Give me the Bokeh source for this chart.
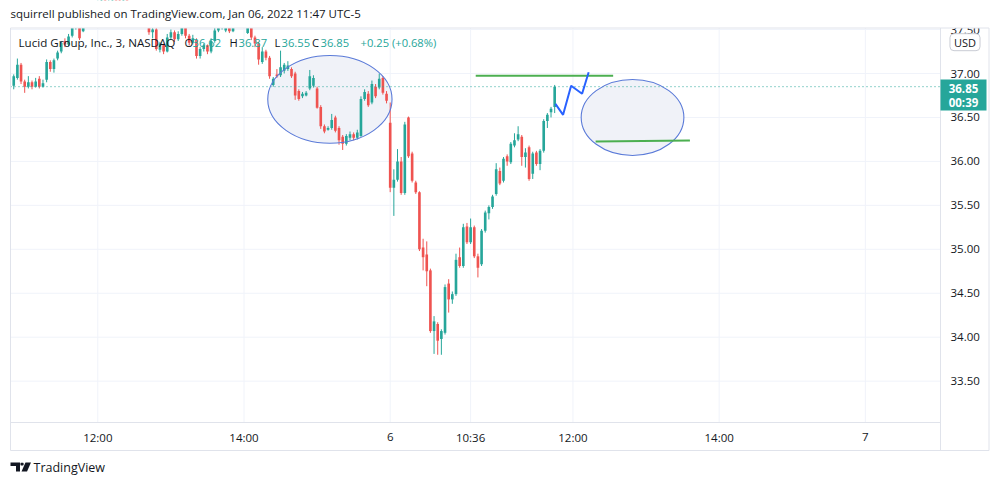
from bokeh.plotting import figure
from bokeh.models import Range1d, Label
from bokeh.embed import file_html
from bokeh.resources import INLINE
from bokeh.core.properties import value

# ---------------- data (3-minute bars, LCID, Jan 5 - Jan 6 2022) ----------------
# bar index: 0 = Jan 6 09:30, negative = Jan 5 session
first_bar = -103
opens = [
    36.86, 36.95, 37.10, 36.91, 36.85, 36.90, 36.85, 36.94, 36.85, 36.93,
    37.13, 37.05, 37.17, 37.25, 37.37, 37.33, 37.43, 37.55, 37.62, 37.48,
    37.58, 37.66, 37.74, 37.70, 37.80, 37.86, 37.78, 37.82, 37.90, 37.84,
    37.79, 37.85, 37.76, 37.72, 37.78, 37.70, 37.64, 37.60, 37.47, 37.50,
    37.27, 37.32, 37.25, 37.41, 37.47, 37.39, 37.45, 37.55, 37.43, 37.35,
    37.38, 37.20, 37.28, 37.32, 37.25, 37.37, 37.49, 37.55, 37.49, 37.56,
    37.48, 37.57, 37.64, 37.70, 37.46, 37.58, 37.41, 37.34, 37.13, 37.25,
    37.18, 36.87, 36.99, 36.98, 37.03, 37.05, 37.05, 37.00, 36.80, 36.74,
    36.75, 36.83, 36.86, 36.83, 36.62, 36.40, 36.36, 36.38, 36.50, 36.38,
    36.28, 36.20, 36.27, 36.31, 36.27, 36.29, 36.71, 36.77, 36.67, 36.85,
    36.84, 36.95, 36.77,
    36.44, 35.70, 35.79, 36.00, 35.64, 36.50, 36.09, 35.76, 35.65, 35.02,
    34.94, 34.76, 34.07, 34.15, 33.98, 34.05, 34.61, 34.43, 34.49, 34.91,
    34.81, 35.26, 35.08, 35.25, 34.92, 34.83, 35.21, 35.41, 35.48, 35.63,
    35.89, 35.78, 36.06, 35.99, 36.18, 36.25, 36.28, 36.05, 36.16, 35.86,
    36.10, 35.97, 36.12, 36.46, 36.56, 36.62,
]
highs = [
    36.99, 37.17, 37.12, 36.93, 36.97, 36.92, 36.95, 36.97, 36.93, 37.16,
    37.15, 37.17, 37.26, 37.37, 37.40, 37.45, 37.60, 37.66, 37.64, 37.62,
    37.70, 37.77, 37.76, 37.83, 37.89, 37.88, 37.85, 37.93, 37.92, 37.86,
    37.88, 37.87, 37.78, 37.81, 37.80, 37.72, 37.66, 37.63, 37.54, 37.53,
    37.36, 37.34, 37.45, 37.50, 37.49, 37.48, 37.60, 37.57, 37.45, 37.44,
    37.40, 37.30, 37.34, 37.33, 37.40, 37.52, 37.58, 37.62, 37.60, 37.58,
    37.60, 37.68, 37.73, 37.72, 37.63, 37.60, 37.43, 37.36, 37.30, 37.27,
    37.20, 36.96, 37.05, 37.26, 37.12, 37.14, 37.07, 37.02, 36.82, 36.79,
    36.80, 37.04, 36.98, 36.85, 36.64, 36.42, 36.40, 36.54, 36.52, 36.40,
    36.30, 36.31, 36.34, 36.33, 36.36, 36.74, 36.82, 36.80, 36.92, 36.88,
    37.00, 36.97, 36.80,
    36.67, 35.91, 36.14, 36.05, 36.45, 36.51, 36.11, 35.78, 35.66, 35.12,
    35.09, 34.78, 34.24, 34.17, 34.09, 34.60, 34.66, 34.52, 34.95, 35.02,
    35.29, 35.30, 35.35, 35.27, 34.95, 35.23, 35.44, 35.50, 35.62, 35.98,
    35.93, 36.05, 36.08, 36.22, 36.32, 36.40, 36.30, 36.15, 36.18, 36.11,
    36.12, 36.14, 36.48, 36.55, 36.62, 36.87,
]
lows = [
    36.82, 36.93, 36.88, 36.78, 36.83, 36.82, 36.84, 36.83, 36.84, 36.90,
    37.02, 37.01, 37.15, 37.23, 37.30, 37.31, 37.41, 37.50, 37.38, 37.47,
    37.55, 37.63, 37.66, 37.68, 37.78, 37.75, 37.76, 37.80, 37.81, 37.76,
    37.77, 37.74, 37.69, 37.70, 37.68, 37.61, 37.53, 37.44, 37.40, 37.26,
    37.24, 37.22, 37.24, 37.38, 37.36, 37.37, 37.43, 37.40, 37.32, 37.33,
    37.17, 37.17, 37.25, 37.22, 37.23, 37.35, 37.47, 37.50, 37.47, 37.46,
    37.47, 37.55, 37.62, 37.60, 37.45, 37.38, 37.30, 37.10, 37.11, 37.15,
    36.94, 36.85, 36.95, 36.96, 37.00, 37.03, 36.95, 36.70, 36.69, 36.72,
    36.74, 36.81, 36.84, 36.60, 36.37, 36.32, 36.35, 36.36, 36.33, 36.19,
    36.13, 36.18, 36.24, 36.24, 36.25, 36.28, 36.69, 36.62, 36.65, 36.72,
    36.82, 36.76, 36.66,
    35.65, 35.38, 35.77, 35.62, 35.62, 36.04, 35.76, 35.63, 34.98, 34.76,
    34.58, 34.05, 33.81, 33.80, 33.80, 34.03, 34.28, 34.38, 34.47, 34.79,
    34.79, 35.06, 35.06, 34.90, 34.68, 34.81, 35.19, 35.34, 35.46, 35.61,
    35.73, 35.76, 35.95, 35.97, 36.16, 36.23, 35.95, 35.93, 35.78, 35.80,
    35.95, 35.90, 36.10, 36.38, 36.50, 36.55,
]
closes = [
    36.97, 37.10, 36.91, 36.85, 36.90, 36.85, 36.91, 36.85, 36.89, 37.13,
    37.05, 37.15, 37.24, 37.35, 37.33, 37.42, 37.55, 37.62, 37.40, 37.58,
    37.66, 37.74, 37.70, 37.80, 37.86, 37.78, 37.82, 37.90, 37.84, 37.79,
    37.85, 37.76, 37.72, 37.78, 37.70, 37.64, 37.60, 37.47, 37.50, 37.28,
    37.34, 37.25, 37.41, 37.47, 37.39, 37.45, 37.55, 37.43, 37.35, 37.40,
    37.20, 37.28, 37.32, 37.25, 37.37, 37.49, 37.55, 37.58, 37.56, 37.48,
    37.57, 37.64, 37.70, 37.62, 37.58, 37.41, 37.34, 37.16, 37.25, 37.18,
    36.97, 36.94, 36.97, 37.07, 37.10, 37.09, 36.97, 36.75, 36.71, 36.77,
    36.78, 36.97, 36.95, 36.61, 36.40, 36.34, 36.38, 36.47, 36.35, 36.24,
    36.20, 36.29, 36.31, 36.27, 36.33, 36.71, 36.79, 36.64, 36.88, 36.74,
    36.94, 36.78, 36.69,
    35.70, 35.79, 36.00, 35.64, 36.42, 36.06, 35.78, 35.65, 35.00, 34.91,
    34.75, 34.07, 34.18, 33.96, 34.07, 34.57, 34.43, 34.49, 34.88, 34.81,
    35.25, 35.08, 35.25, 34.92, 34.79, 35.21, 35.42, 35.48, 35.60, 35.91,
    35.75, 36.03, 36.00, 36.20, 36.24, 36.31, 36.05, 36.10, 35.80, 36.09,
    35.97, 36.12, 36.46, 36.53, 36.60, 36.85,
]

time_ticks = [-80, -40, 0, 22, 50, 90, 130]
time_labels = ["12:00", "14:00", "6", "10:36", "12:00", "14:00", "7"]
price_ticks = [33.5, 34.0, 34.5, 35.0, 35.5, 36.0, 36.5, 37.0, 37.5]
price_labels = ["%.2f" % v for v in price_ticks]
last_price = 36.85

# drawings on the chart (bar index, price)
ellipse_bar = [-16.5, 66.3]
ellipse_price = [36.706, 36.50]
ellipse_w = [34.0, 28.1]
ellipse_h = [0.998, 0.865]
hline1_bar, hline1_price = [23.4, 61.0], [36.974, 36.974]
hline2_bar, hline2_price = [56.2, 82.0], [36.226, 36.238]
zigzag_bar = [45.2, 47.3, 49.5, 52.5, 54.3]
zigzag_price = [36.655, 36.53, 36.86, 36.77, 37.015]

# ---------------- page geometry (pixel -> chart scale) ----------------
W, H = 999, 485
PX_BAR, X0 = 3.655, 389.7      # px per bar, px of bar 0
PX_USD, Y37 = 87.9, 73.0       # px per 1.00 USD, px of 37.00


def bx(px):
    return (px - X0) / PX_BAR


def py(pxy):
    return 37.0 - (pxy - Y37) / PX_USD


PANE_L, PANE_R, PANE_T, PANE_B = 10, 940, 27.5, 422
BOX_R, BOX_B = 988.5, 450

UP, DOWN = "#26a69a", "#ef5350"
FONT = "Open Sans"
TXT = "#131722"
LINE = "#e0e3eb"
GRID = "#f0f3fa"

p = figure(width=W, height=H, output_backend="svg", toolbar_location=None,
           x_range=Range1d(bx(0), bx(W)), y_range=Range1d(py(H), py(0)),
           x_axis_location=None, y_axis_location=None, min_border=0)
p.outline_line_color = None
p.xgrid.visible = False
p.ygrid.visible = False
p.background_fill_color = "white"
p.border_fill_color = "white"

# grid lines limited to the price pane
p.segment(x0=time_ticks, x1=time_ticks, y0=[py(PANE_T)] * len(time_ticks),
          y1=[py(PANE_B)] * len(time_ticks), line_color=GRID, line_width=1)
p.segment(x0=[bx(PANE_L)] * len(price_ticks), x1=[bx(PANE_R)] * len(price_ticks),
          y0=price_ticks, y1=price_ticks, line_color=GRID, line_width=1)

# ellipse fills (under the candles)
p.ellipse(x=ellipse_bar, y=ellipse_price, width=ellipse_w, height=ellipse_h,
          fill_color="#f0f2f8", fill_alpha=1.0, line_color=None)

# candles
bars = list(range(first_bar, first_bar + len(closes)))
colors = [UP if c >= o else DOWN for o, c in zip(opens, closes)]
tops = [max(o, c) for o, c in zip(opens, closes)]
bottoms = [min(o, c) for o, c in zip(opens, closes)]
p.segment(x0=bars, y0=lows, x1=bars, y1=highs, line_color=colors, line_width=1)
p.vbar(x=bars, top=tops, bottom=bottoms, width=0.72, fill_color=colors, line_color=None)

# last price dotted line
p.segment(x0=[bx(PANE_L)], x1=[bx(PANE_R)], y0=[last_price], y1=[last_price],
          line_color=UP, line_dash="1 3", line_width=1)

# drawings
p.ellipse(x=ellipse_bar, y=ellipse_price, width=ellipse_w, height=ellipse_h,
          fill_color=None, line_color="#5a7ad8", line_width=1.1)
p.line(hline1_bar, hline1_price, line_color="#4caf50", line_width=2)
p.line(hline2_bar, hline2_price, line_color="#4caf50", line_width=2)
p.line(zigzag_bar, zigzag_price, line_color="#2962ff", line_width=2)

# price scale labels
p.text(x=[bx(950)] * len(price_ticks), y=price_ticks, text=price_labels,
       text_font=value(FONT), text_font_size="11.5px", text_color=TXT,
       text_align="left", text_baseline="middle")

# white header strip (chart is clipped at the pane top)
p.quad(left=[bx(0)], right=[bx(W)], top=[py(0)], bottom=[py(PANE_T)],
       fill_color="white", line_color=None)

# box, separators
p.quad(left=[bx(PANE_L)], right=[bx(BOX_R)], top=[py(PANE_T)], bottom=[py(BOX_B)],
       fill_color=None, line_color=LINE, line_width=1)
p.segment(x0=[bx(PANE_R)], x1=[bx(PANE_R)], y0=[py(PANE_T)], y1=[py(BOX_B)],
          line_color=LINE, line_width=1)
p.segment(x0=[bx(PANE_L)], x1=[bx(PANE_R)], y0=[py(PANE_B)], y1=[py(PANE_B)],
          line_color=LINE, line_width=1)

# time scale labels
p.text(x=time_ticks, y=[py(436.5)] * len(time_ticks), text=time_labels,
       text_font=value(FONT), text_font_size="11.5px", text_color=TXT,
       text_align="center", text_baseline="middle")

# last-price tag on the scale
p.quad(left=[bx(940)], right=[bx(986)], top=[py(79)], bottom=[py(110)],
       fill_color=UP, line_color=None)

# footer logo
p.patches(xs=[[bx(10), bx(19.5), bx(19.5), bx(15.5), bx(15.5), bx(10)],
              [bx(20.3), bx(22.7), bx(23.3), bx(22.7), bx(20.3), bx(19.8)],
              [bx(25), bx(30.5), bx(26.5), bx(21)]],
          ys=[[py(462), py(462), py(471), py(471), py(465.5), py(465.5)],
              [py(462.3), py(462.3), py(463.6), py(465), py(465), py(463.6)],
              [py(462), py(462), py(471), py(471)]],
          fill_color=TXT, line_color=None)


def lab(x, y, text, color=TXT, size="11.2px", align="left", style="normal", **kw):
    p.add_layout(Label(x=x, y=H - y, x_units="screen", y_units="screen", text=text,
                       text_color=color, text_font=FONT, text_font_size=size,
                       text_align=align, text_baseline="middle",
                       text_font_style=style, **kw))


lab(10, 13, "squirrell published on TradingView.com, Jan 06, 2022 11:47 UTC-5", size="11.5px")
lab(18, 42, "Lucid Group, Inc., 3, NASDAQ", size="11.6px")
for letter, lx, val, vx in [("O", 184, "36.62", 192), ("H", 229, "36.87", 238),
                            ("L", 274, "36.55", 281), ("C", 311.5, "36.85", 320)]:
    lab(lx, 42, letter)
    lab(vx, 42, val, color=UP)
lab(360, 42, "+0.25 (+0.68%)", color=UP)

lab(964.5, 41.7, "USD", size="11px", align="center", background_fill_color="white",
    border_line_color="#c9ccd4", border_radius=4, padding=dict(x=4, y=1))
lab(963, 88, "36.85", color="white", size="11.5px", align="center", style="bold")
lab(963, 101.5, "00:39", color="white", size="11.5px", align="center", style="bold")
lab(33, 467, "TradingView", size="12.5px")

open("out.html", "w").write(file_html(p, INLINE))
